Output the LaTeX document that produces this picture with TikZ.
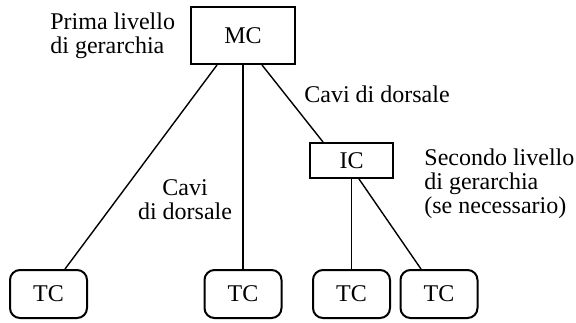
\documentclass[tikz,border=0pt]{standalone}
\usepackage{fontspec}
\setmainfont{Liberation Serif}
\usetikzlibrary{positioning,calc}

\begin{document}
\begin{tikzpicture}[x=0.5pt,y=-0.5pt,
    font=\fontsize{12}{12}\selectfont,
    hub/.style={draw,line width=1pt,inner sep=0pt},
    tcbox/.style={draw,line width=1pt,rounded corners=5pt,inner sep=0pt,
      minimum width=38.5pt,minimum height=24pt},
    cable/.style={line width=0.7pt},
    note/.style={inner sep=0pt}]
  \useasboundingbox (0,0) rectangle (576,322);
  \node[hub,minimum width=52pt,minimum height=28.5pt] (mc) at (243,35.5) {MC};
  \node[hub,minimum width=41.5pt,minimum height=17.5pt] (ic) at (351.5,160.5) {IC};
  \node[tcbox] (tc1) at (48.5,294) {TC};
  \node[tcbox] (tc2) at (243,294) {TC};
  \node[tcbox] (tc3) at (351.5,294) {TC};
  \node[tcbox] (tc4) at (439,294) {TC};
  \draw[cable] ($(mc.south)+(-26,0)$) -- ($(tc1.north)+(16.5,0)$);
  \draw[cable] (mc.south) -- (tc2.north);
  \draw[cable] ($(mc.south)+(19,0)$) -- ($(ic.north)+(-28.5,0)$);
  \draw[cable] (ic.south) -- (tc3.north);
  \draw[cable] ($(ic.south)+(7.5,0)$) -- ($(tc4.north)+(-18,0)$);
  \node[note,anchor=west,align=left] (lvl1) at (50,36) {Prima livello\\di gerarchia};
  \node[note,anchor=west] (cavi1) at (304,94) {Cavi di dorsale};
  \node[note,align=center] (cavi2) at (185,200) {Cavi\\di dorsale};
  \node[note,anchor=west,align=left] (lvl2) at (424,184) {Secondo livello\\di gerarchia\\(se necessario)};
\end{tikzpicture}
\end{document}
